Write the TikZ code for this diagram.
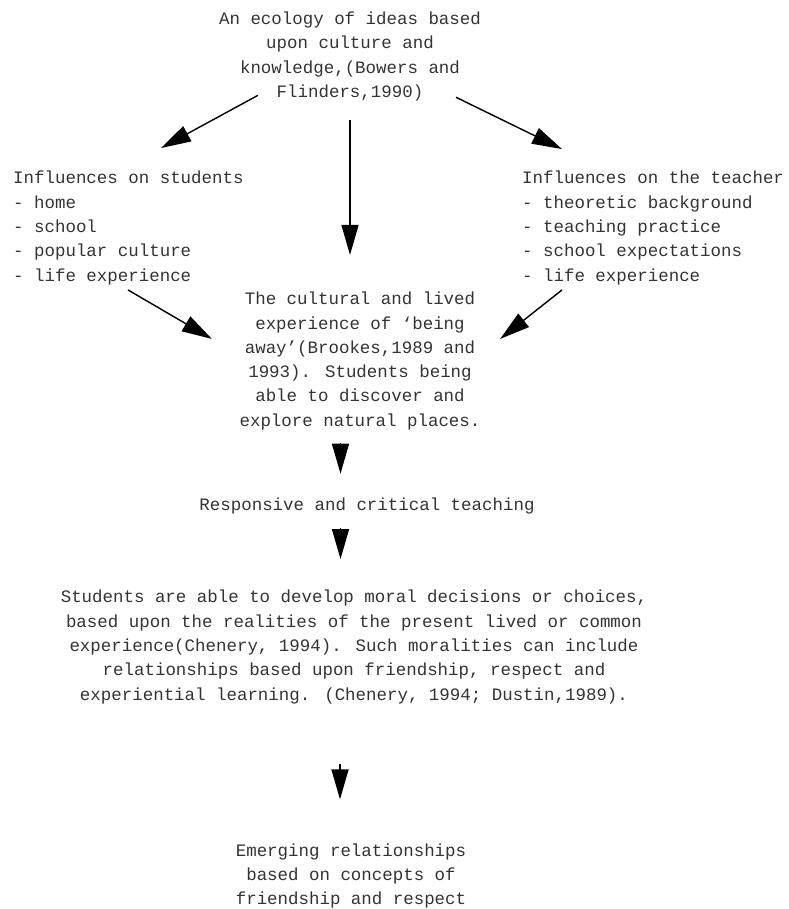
\documentclass[tikz,border=0pt]{standalone}
\usepackage{fontspec}
\newfontfamily\courfont{Liberation Mono}
\usetikzlibrary{arrows.meta, positioning}

\begin{document}
\begin{tikzpicture}[x=1pt, y=-1pt, >={Triangle[length=30pt, width=17pt]},
    txt/.style={font=\courfont\fontsize{17.45}{24.3}\selectfont, text=black!80, inner sep=0pt, align=center},
    arr/.style={->, line width=1.4pt}]
    \useasboundingbox (0,0) rectangle (788,909);

    % Top: the ecology of ideas
    \node[txt] (ecology) at (350,56.5) {An ecology of ideas based\\upon culture and\\knowledge,(Bowers and\\Flinders,1990)};

    % Side blocks: influences
    \node[txt, align=left, anchor=west] (students) at (13,228) {Influences on students\\- home\\- school\\- popular culture\\- life experience};
    \node[txt, align=left, anchor=west] (teacher) at (522,228) {Influences on the teacher\\- theoretic background\\- teaching practice\\- school expectations\\- life experience};

    % Middle: being away
    \node[txt] (lived) at (360,361) {The cultural and lived\\experience of ‘being\\away’(Brookes,1989 and\\1993). Students being\\able to discover and\\explore natural places.};

    \node[txt] (teaching) at (367,506) {Responsive and critical teaching};

    \node[txt] (moral) at (354,647) {Students are able to develop moral decisions or choices,\\based upon the realities of the present lived or common\\experience(Chenery, 1994). Such moralities can include\\relationships based upon friendship, respect and\\experiential learning. (Chenery, 1994; Dustin,1989).};

    % Bottom
    \node[txt] (emerging) at (351,876) {Emerging relationships\\based on concepts of\\friendship and respect};

    % Arrows
    \draw[arr] ([xshift=-92pt, yshift=6pt]ecology.south) -- ([xshift=148pt, yshift=23pt]students.north west);
    \draw[arr] ([xshift=106pt, yshift=4pt]ecology.south) -- ([xshift=40pt, yshift=22pt]teacher.north west);
    \draw[arr] ([yshift=-19pt]ecology.south) -- ([xshift=-10pt, yshift=37pt]lived.north);
    \draw[arr] ([xshift=115pt, yshift=-5pt]students.south west) -- ([xshift=-27.5pt, yshift=-47pt]lived.north west);
    \draw[arr] ([xshift=40pt, yshift=-5pt]teacher.south west) -- ([xshift=19.5pt, yshift=-47pt]lived.north east);
    \draw[arr] ([xshift=-19.5pt, yshift=-13pt]lived.south) -- ([xshift=-26.5pt, yshift=24pt]teaching.north);
    \draw[arr] ([xshift=-26.5pt, yshift=-14pt]teaching.south) -- ([xshift=-13.5pt, yshift=31pt]moral.north);
    \draw[arr] ([xshift=-14pt, yshift=-60pt]moral.south) -- ([xshift=-11pt, yshift=44pt]emerging.north);
\end{tikzpicture}
\end{document}
